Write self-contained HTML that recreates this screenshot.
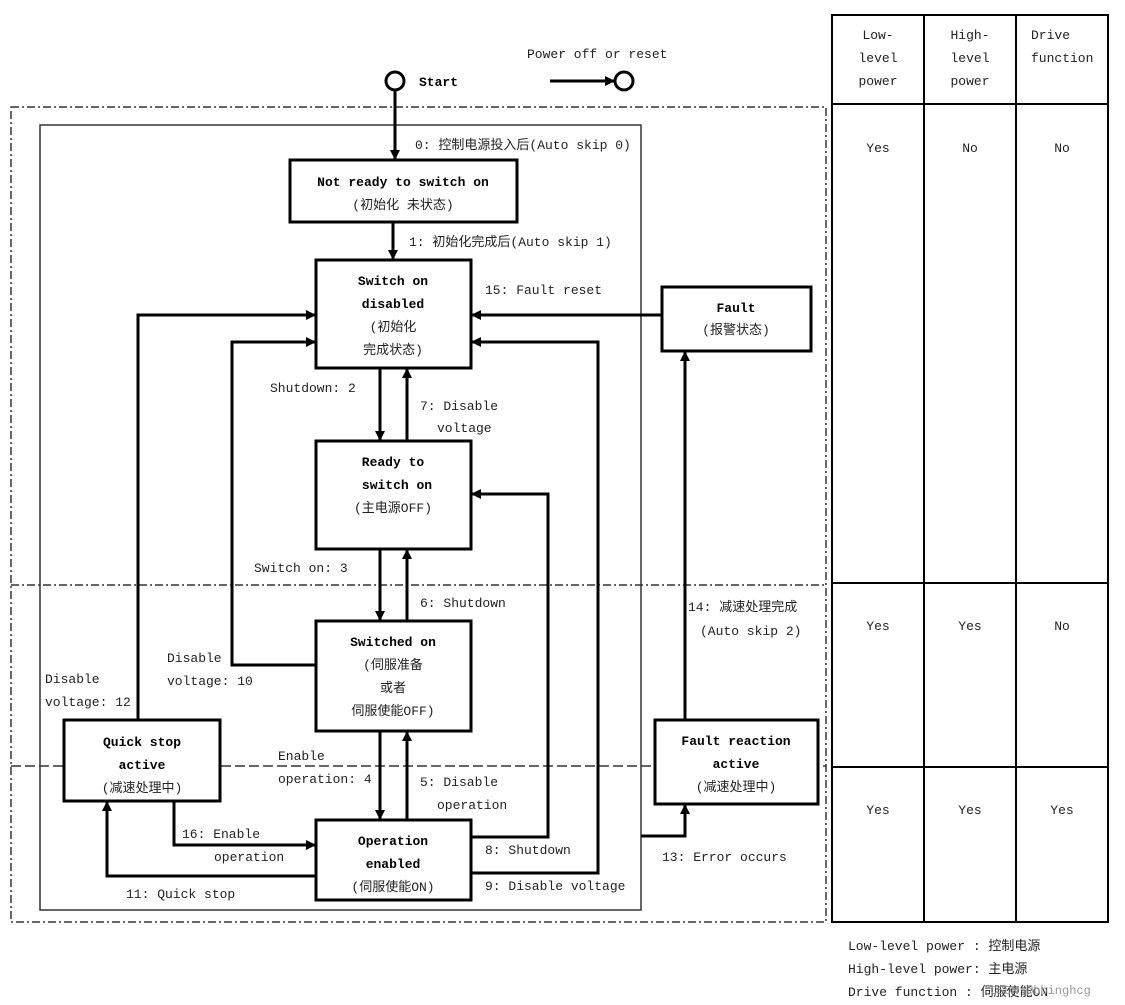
<!DOCTYPE html>
<html><head><meta charset="utf-8"><style>
html,body{margin:0;padding:0;background:#fff;}
svg{display:block}
text{font-family:"Liberation Mono","Noto Sans CJK SC",monospace;font-size:13px;fill:#222;}
.b{font-weight:bold;fill:#000;}
</style></head><body>
<svg width="1125" height="1005" viewBox="0 0 1125 1005" xmlns="http://www.w3.org/2000/svg">
<defs>
<marker id="a" markerWidth="10" markerHeight="10" refX="9" refY="5" orient="auto" markerUnits="userSpaceOnUse">
<path d="M0,0 L10,5 L0,10 z" fill="#000"/></marker>
</defs>
<!-- outer dash-dot -->
<rect x="11" y="107" width="815" height="815" fill="none" stroke="#333" stroke-width="1.5" stroke-dasharray="8,3,2,3"/>
<line x1="11" y1="585" x2="826" y2="585" stroke="#333" stroke-width="1.5" stroke-dasharray="8,3,2,3"/>
<line x1="11" y1="766" x2="826" y2="766" stroke="#333" stroke-width="1.5" stroke-dasharray="10,4"/>
<rect x="40" y="125" width="601" height="785" fill="none" stroke="#333" stroke-width="1.5"/>
<!-- table -->
<g stroke="#000" stroke-width="2" fill="none">
<rect x="832" y="15" width="276" height="907"/>
<line x1="924" y1="15" x2="924" y2="922"/><line x1="1016" y1="15" x2="1016" y2="922"/>
<line x1="832" y1="104" x2="1108" y2="104"/><line x1="832" y1="583" x2="1108" y2="583"/><line x1="832" y1="767" x2="1108" y2="767"/>
</g>
<g text-anchor="middle">
<text x="878" y="39">Low-</text><text x="878" y="62">level</text><text x="878" y="85">power</text>
<text x="970" y="39">High-</text><text x="970" y="62">level</text><text x="970" y="85">power</text>
<text x="878" y="152">Yes</text><text x="970" y="152">No</text><text x="1062" y="152">No</text>
<text x="878" y="630">Yes</text><text x="970" y="630">Yes</text><text x="1062" y="630">No</text>
<text x="878" y="814">Yes</text><text x="970" y="814">Yes</text><text x="1062" y="814">Yes</text>
</g>
<text x="1031" y="39">Drive</text><text x="1031" y="62">function</text>
<text x="848" y="950">Low-level power : 控制电源</text>
<text x="848" y="973">High-level power: 主电源</text>
<text x="848" y="996">Drive function  : 伺服使能ON</text>
<text x="990" y="994" style="font-size:12px;fill:#999">CSDN @bbinghcg</text>
<!-- start -->
<circle cx="395" cy="81" r="9" fill="#fff" stroke="#000" stroke-width="3"/>
<text x="419" y="86" class="b">Start</text>
<text x="527" y="58">Power off or reset</text>
<line x1="550" y1="81" x2="614" y2="81" stroke="#000" stroke-width="3" marker-end="url(#a)"/>
<circle cx="624" cy="81" r="9" fill="#fff" stroke="#000" stroke-width="3"/>
<!-- boxes -->
<g fill="#fff" stroke="#000" stroke-width="3">
<rect x="290" y="160" width="227" height="62"/>
<rect x="316" y="260" width="155" height="108"/>
<rect x="316" y="441" width="155" height="108"/>
<rect x="316" y="621" width="155" height="110"/>
<rect x="316" y="820" width="155" height="80"/>
<rect x="64" y="720" width="156" height="81"/>
<rect x="662" y="287" width="149" height="64"/>
<rect x="655" y="720" width="163" height="84"/>
</g>
<g text-anchor="middle">
<text x="403" y="186" class="b">Not ready to switch on</text><text x="403" y="209">(初始化 未状态)</text>
<text x="393" y="285" class="b">Switch on</text><text x="393" y="308" class="b">disabled</text><text x="393" y="331">(初始化</text><text x="393" y="354">完成状态)</text>
<text x="393" y="466" class="b">Ready to</text><text x="397" y="489" class="b">switch on</text><text x="393" y="512">(主电源OFF)</text>
<text x="393" y="646" class="b">Switched on</text><text x="393" y="669">(伺服准备</text><text x="393" y="692">或者</text><text x="393" y="715">伺服使能OFF)</text>
<text x="393" y="845" class="b">Operation</text><text x="393" y="868" class="b">enabled</text><text x="393" y="891">(伺服使能ON)</text>
<text x="142" y="746" class="b">Quick stop</text><text x="142" y="769" class="b">active</text><text x="142" y="792">(减速处理中)</text>
<text x="736" y="312" class="b">Fault</text><text x="736" y="334">(报警状态)</text>
<text x="736" y="745" class="b">Fault reaction</text><text x="736" y="768" class="b">active</text><text x="736" y="791">(减速处理中)</text>
</g>
<!-- arrows -->
<g stroke="#000" stroke-width="3" fill="none" marker-end="url(#a)">
<line x1="395" y1="90" x2="395" y2="159"/>
<line x1="393" y1="222" x2="393" y2="259"/>
<line x1="380" y1="368" x2="380" y2="440"/>
<line x1="407" y1="441" x2="407" y2="369"/>
<line x1="380" y1="549" x2="380" y2="620"/>
<line x1="407" y1="621" x2="407" y2="550"/>
<line x1="380" y1="731" x2="380" y2="819"/>
<line x1="407" y1="820" x2="407" y2="732"/>
<polyline points="138,720 138,315 315,315"/>
<polyline points="316,665 232,665 232,342 315,342"/>
<line x1="662" y1="315" x2="472" y2="315"/>
<polyline points="471,873 598,873 598,342 472,342"/>
<polyline points="471,837 548,837 548,494 472,494"/>
<polyline points="174,801 174,845 315,845"/>
<polyline points="316,876 107,876 107,802"/>
<polyline points="641,836 685,836 685,805"/>
<line x1="685" y1="720" x2="685" y2="352"/>
</g>
<!-- labels -->
<text x="415" y="149">0: 控制电源投入后(Auto skip 0)</text>
<text x="409" y="246">1: 初始化完成后(Auto skip 1)</text>
<text x="485" y="294">15: Fault reset</text>
<text x="270" y="392">Shutdown: 2</text>
<text x="420" y="410">7: Disable</text><text x="437" y="432">voltage</text>
<text x="254" y="572">Switch on: 3</text>
<text x="420" y="607">6: Shutdown</text>
<text x="167" y="662">Disable</text><text x="167" y="685">voltage: 10</text>
<text x="45" y="683">Disable</text><text x="45" y="706">voltage: 12</text>
<text x="278" y="760">Enable</text><text x="278" y="783">operation: 4</text>
<text x="420" y="786">5: Disable</text><text x="437" y="809">operation</text>
<text x="182" y="838">16: Enable</text><text x="214" y="861">operation</text>
<text x="485" y="854">8: Shutdown</text>
<text x="485" y="890">9: Disable voltage</text>
<text x="126" y="898">11: Quick stop</text>
<text x="662" y="861">13: Error occurs</text>
<text x="688" y="611">14: 减速处理完成</text>
<text x="700" y="635">(Auto skip 2)</text>
</svg>
</body></html>
